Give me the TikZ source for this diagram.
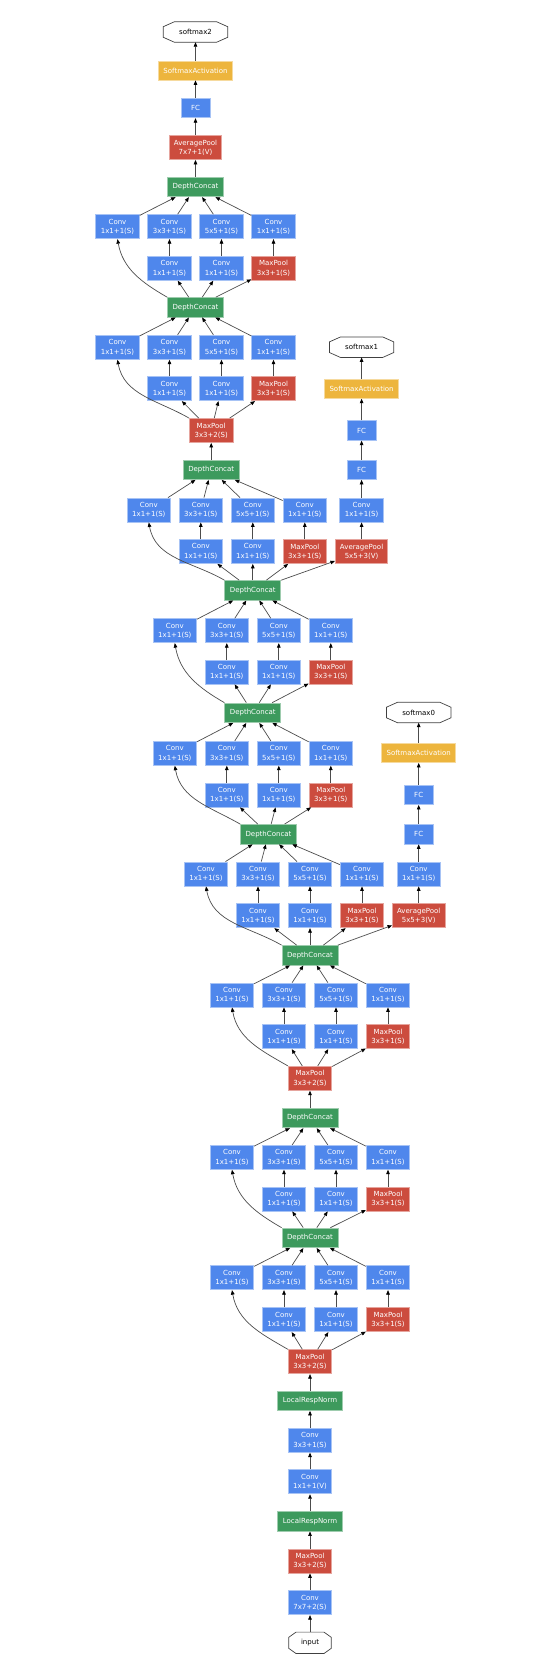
\documentclass[tikz,border=0pt]{standalone}
\usepackage{fontspec}
\setmainfont{DejaVu Sans}
\usepackage{tikz}
\usetikzlibrary{positioning, arrows.meta, calc, shapes.misc}
\definecolor{convblue}{HTML}{4F87EC}
\definecolor{poolred}{HTML}{CC4C3E}
\definecolor{concatgreen}{HTML}{3D9A5D}
\definecolor{actyellow}{HTML}{EDB53D}
\tikzset{
    box/.style={rectangle, inner sep=0pt, text=white, align=center, font=\fontsize{7}{9.3}\selectfont, line width=0.8pt},
    conv/.style={box, fill=convblue, draw=convblue!50!white, minimum width=43.5pt, minimum height=24pt},
    pool/.style={box, fill=poolred, draw=poolred!50!white, minimum width=43.5pt, minimum height=24pt},
    concat/.style={box, fill=concatgreen, draw=concatgreen!50!white, minimum width=56pt, minimum height=19.5pt},
    act/.style={box, fill=actyellow, draw=actyellow!50!white, minimum width=74pt, minimum height=19pt},
    octa/.style={rectangle, inner sep=0pt, minimum width=64pt, minimum height=20pt, font=\fontsize{7}{9.3}\selectfont},
    octline/.style={draw=black!75, line width=0.7pt},
    flow/.style={draw=black!70, line width=0.7pt, -{Triangle[length=4.5pt,width=3.6pt,black]}},
}
% octagon outline around a plain node
\newcommand{\Octagon}[1]{%
  \draw[octline] ($(#1.north west)!0.17!(#1.north east)$) -- ($(#1.north west)!0.83!(#1.north east)$)
    -- ($(#1.north east)!0.24!(#1.south east)$) -- ($(#1.north east)!0.76!(#1.south east)$)
    -- ($(#1.south west)!0.83!(#1.south east)$) -- ($(#1.south west)!0.17!(#1.south east)$)
    -- ($(#1.north west)!0.76!(#1.south west)$) -- ($(#1.north west)!0.24!(#1.south west)$) -- cycle;}
% one inception module: name, centre x, top row y, lower row y, input, output
\newcommand{\Inception}[6]{%
  \node[conv] (#1a) at ({#2-78},#3) {Conv\\1x1+1(S)};
  \node[conv] (#1b) at ({#2-26},#3) {Conv\\3x3+1(S)};
  \node[conv] (#1c) at ({#2+26},#3) {Conv\\5x5+1(S)};
  \node[conv] (#1d) at ({#2+78},#3) {Conv\\1x1+1(S)};
  \node[conv] (#1e) at ({#2-26},#4) {Conv\\1x1+1(S)};
  \node[conv] (#1f) at ({#2+26},#4) {Conv\\1x1+1(S)};
  \node[pool] (#1g) at ({#2+78},#4) {MaxPool\\3x3+1(S)};
  \draw[flow] (#5.north west) to[out=150, in=-80] (#1a.south);
  \draw[flow] (#5) -- (#1e);
  \draw[flow] (#5) -- (#1f);
  \draw[flow] (#5) -- (#1g);
  \draw[flow] (#1e) -- (#1b);
  \draw[flow] (#1f) -- (#1c);
  \draw[flow] (#1g) -- (#1d);
  \draw[flow] (#1a) -- (#6);
  \draw[flow] (#1b) -- (#6);
  \draw[flow] (#1c) -- (#6);
  \draw[flow] (#1d) -- (#6);}

\begin{document}
\begin{tikzpicture}[x=1pt, y=-1pt]
    \useasboundingbox (0,0) rectangle (544,1670);

    % stem
    \node[octa, minimum width=42pt, minimum height=21pt] (input) at (310,1642.8) {input};
    \node[conv] (conv1) at (310,1602.7) {Conv\\7x7+2(S)};
    \node[pool] (pool1) at (310,1561) {MaxPool\\3x3+2(S)};
    \node[concat, minimum width=64.7pt] (norm1) at (310,1521.3) {LocalRespNorm};
    \node[conv] (conv2r) at (310,1481.8) {Conv\\1x1+1(V)};
    \node[conv] (conv2) at (310,1440.2) {Conv\\3x3+1(S)};
    \node[concat, minimum width=64.7pt] (norm2) at (310,1400.7) {LocalRespNorm};
    \node[pool] (pool2) at (310,1361.7) {MaxPool\\3x3+2(S)};

    % concat outputs
    \node[concat] (cat3a) at (310,1237.8) {DepthConcat};
    \node[concat] (cat3b) at (310,1118) {DepthConcat};
    \node[pool] (pool3) at (310,1078.3) {MaxPool\\3x3+2(S)};
    \node[concat] (cat4a) at (310,955.3) {DepthConcat};
    \node[concat] (cat4b) at (268.5,834.2) {DepthConcat};
    \node[concat] (cat4c) at (252.8,712.8) {DepthConcat};
    \node[concat] (cat4d) at (252.8,590.3) {DepthConcat};
    \node[concat] (cat4e) at (211.2,469.7) {DepthConcat};
    \node[pool] (pool4) at (211.2,430.5) {MaxPool\\3x3+2(S)};
    \node[concat] (cat5a) at (195.5,307.3) {DepthConcat};
    \node[concat] (cat5b) at (195.5,187) {DepthConcat};

    % main head
    \node[pool, minimum width=52.5pt] (avg2) at (195.5,147.5) {AveragePool\\7x7+1(V)};
    \node[conv, minimum width=29pt, minimum height=19.5pt] (fc2) at (195.5,108) {FC};
    \node[act] (act2) at (195.5,70.5) {SoftmaxActivation};
    \node[octa] (sm2) at (195.5,32) {softmax2};

    % aux head 1
    \node[pool, minimum width=52.5pt] (avg1) at (361.6,551.5) {AveragePool\\5x5+3(V)};
    \node[conv] (conv1x) at (361.6,510) {Conv\\1x1+1(S)};
    \node[conv, minimum width=29pt, minimum height=19.5pt] (fc1a) at (361.6,469.7) {FC};
    \node[conv, minimum width=29pt, minimum height=19.5pt] (fc1b) at (361.6,430.5) {FC};
    \node[act] (act1) at (361.6,388.8) {SoftmaxActivation};
    \node[octa] (sm1) at (361.6,347.2) {softmax1};

    % aux head 0
    \node[pool, minimum width=52.5pt] (avg0) at (418.7,915.7) {AveragePool\\5x5+3(V)};
    \node[conv] (conv0x) at (418.7,874) {Conv\\1x1+1(S)};
    \node[conv, minimum width=29pt, minimum height=19.5pt] (fc0a) at (418.7,834.2) {FC};
    \node[conv, minimum width=29pt, minimum height=19.5pt] (fc0b) at (418.7,794.8) {FC};
    \node[act] (act0) at (418.7,753) {SoftmaxActivation};
    \node[octa] (sm0) at (418.7,712.5) {softmax0};

    \Octagon{input} \Octagon{sm0} \Octagon{sm1} \Octagon{sm2}

    % inception modules
    \Inception{iTa}{310}{1277.7}{1319.7}{pool2}{cat3a}
    \Inception{iTb}{310}{1157.3}{1199}{cat3a}{cat3b}
    \Inception{iFa}{310}{995}{1036.7}{pool3}{cat4a}
    \Inception{iFb}{284}{874}{915.7}{cat4a}{cat4b}
    \Inception{iFc}{252.8}{753.3}{795}{cat4b}{cat4c}
    \Inception{iFd}{252.8}{630.7}{672}{cat4c}{cat4d}
    \Inception{iFe}{226.8}{510}{551.5}{cat4d}{cat4e}
    \Inception{iVa}{195.5}{347.3}{388.7}{pool4}{cat5a}
    \Inception{iVb}{195.5}{226.7}{268.3}{cat5a}{cat5b}

    % chains
    \draw[flow] (input) -- (conv1);
    \draw[flow] (conv1) -- (pool1);
    \draw[flow] (pool1) -- (norm1);
    \draw[flow] (norm1) -- (conv2r);
    \draw[flow] (conv2r) -- (conv2);
    \draw[flow] (conv2) -- (norm2);
    \draw[flow] (norm2) -- (pool2);
    \draw[flow] (cat3b) -- (pool3);
    \draw[flow] (cat4e) -- (pool4);
    \draw[flow] (cat5b) -- (avg2);
    \draw[flow] (avg2) -- (fc2);
    \draw[flow] (fc2) -- (act2);
    \draw[flow] (act2) -- (sm2);

    \draw[flow] (cat4d) -- (avg1);
    \draw[flow] (avg1) -- (conv1x);
    \draw[flow] (conv1x) -- (fc1a);
    \draw[flow] (fc1a) -- (fc1b);
    \draw[flow] (fc1b) -- (act1);
    \draw[flow] (act1) -- (sm1);

    \draw[flow] (cat4a) -- (avg0);
    \draw[flow] (avg0) -- (conv0x);
    \draw[flow] (conv0x) -- (fc0a);
    \draw[flow] (fc0a) -- (fc0b);
    \draw[flow] (fc0b) -- (act0);
    \draw[flow] (act0) -- (sm0);
\end{tikzpicture}
\end{document}
